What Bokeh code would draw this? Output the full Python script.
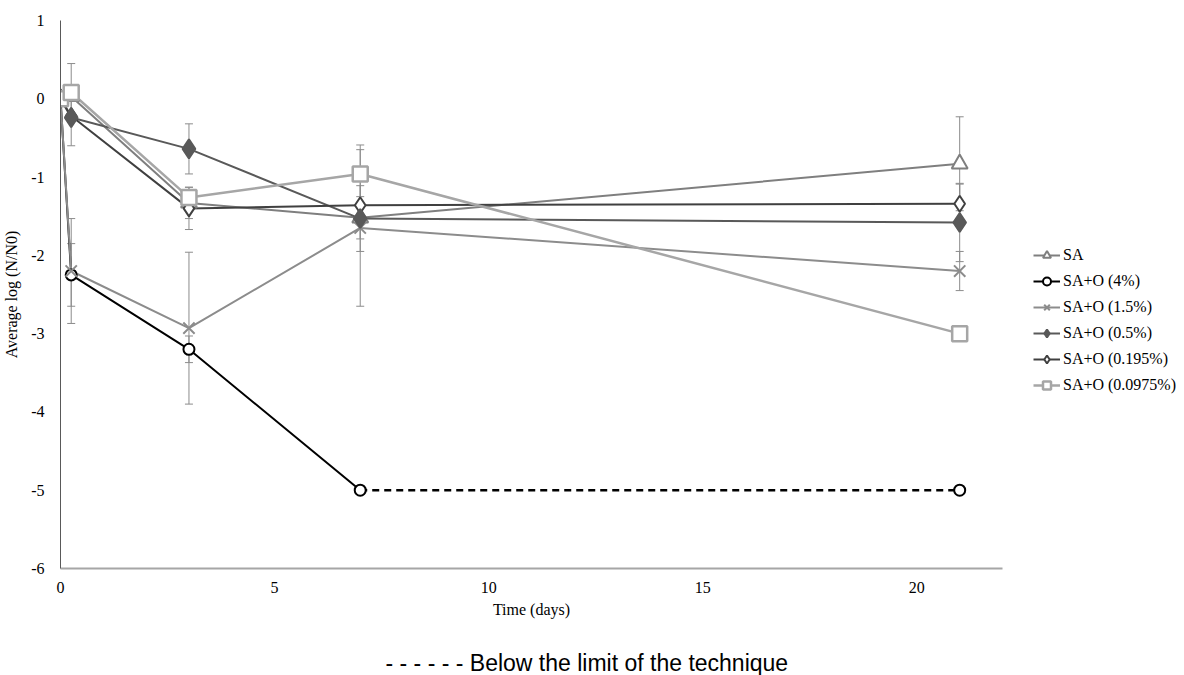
from bokeh.plotting import figure
from bokeh.layouts import column
from bokeh.models import (ColumnDataSource, Whisker, TeeHead, Legend, LegendItem, Label,
                          FixedTicker, Range1d, CustomJSTickFormatter)
from bokeh.embed import file_html
from bokeh.resources import INLINE

days = [0, 0.25, 3, 7, 21]
sa = [0, 0.03, -1.33, -1.52, -0.83]
sa_err = [0, 0, 0.2, 0.27, 0.6]
o4 = [0, -2.25, -3.2, -5, -5]
o4_err = [0, 0.4, 0.17, 0, 0]
o15 = [0, -2.2, -2.93, -1.65, -2.2]
o15_err = [0, 0.67, 0.97, 1.0, 0.25]
o05 = [0, -0.24, -0.64, -1.53, -1.58]
o05_err = [0, 0.36, 0.32, 0.42, 0.5]
o0195 = [0, -0.22, -1.4, -1.36, -1.34]
o0195_err = [0, 0, 0.27, 0, 0.25]
o00975 = [0, 0.08, -1.26, -0.96, -3.0]
o00975_err = [0, 0.37, 0.1, 0.37, 0]

x_ticks = [0, 5, 10, 15, 20]
y_ticks = [-6, -5, -4, -3, -2, -1, 0, 1]
x_axis_max = 22

SERIF = "Liberation Serif"
AXIS_PX = 942      # pixel length of the drawn x axis (0..22 days)
FRAME_PX = 1124    # frame extends to the right to hold the legend

p = figure(frame_width=FRAME_PX, frame_height=548, output_backend="svg", toolbar_location=None,
           x_range=Range1d(0, x_axis_max * FRAME_PX / AXIS_PX), y_range=Range1d(-6, 1),
           min_border_left=60, min_border_top=20, min_border_right=0, min_border_bottom=30)
p.outline_line_color = None
p.xgrid.grid_line_color = None
p.ygrid.grid_line_color = None
p.background_fill_color = "white"

fmt = CustomJSTickFormatter(code="return tick.toString();")
for ax in (p.xaxis[0], p.yaxis[0]):
    ax.major_tick_line_color = None
    ax.minor_tick_line_color = None
    ax.major_label_text_font = SERIF
    ax.major_label_text_font_size = "16px"
    ax.major_label_text_color = "black"
    ax.axis_label_text_font = SERIF
    ax.axis_label_text_font_size = "16px"
    ax.axis_label_text_font_style = "normal"
    ax.axis_label_text_color = "black"
    ax.formatter = fmt
p.xaxis.ticker = FixedTicker(ticks=x_ticks)
p.yaxis.ticker = FixedTicker(ticks=y_ticks)
p.xaxis.bounds = (0, x_axis_max)
p.xaxis.axis_line_color = "#a6a6a6"
p.xaxis.axis_line_width = 2
p.yaxis.axis_line_color = "#595959"
p.yaxis.axis_line_width = 1
p.xaxis.major_label_standoff = 7
p.yaxis.major_label_standoff = 10
p.xaxis.axis_label = None
p.yaxis.axis_label = "Average log (N/N0)"
p.yaxis.axis_label_standoff = 8

series = [
    ("SA", sa, sa_err, "#7f7f7f", "triangle", 16, "white", 2),
    ("SA+O (4%)", o4, o4_err, "#000000", "circle", 11, "white", 2),
    ("SA+O (1.5%)", o15, o15_err, "#8c8c8c", "x", 16, "#8c8c8c", 2),
    ("SA+O (0.5%)", o05, o05_err, "#595959", "diamond", 19, "#595959", 2),
    ("SA+O (0.195%)", o0195, o0195_err, "#404040", "diamond", 16, "white", 2),
    ("SA+O (0.0975%)", o00975, o00975_err, "#a6a6a6", "square", 15, "white", 2.5),
]

# error bars first
for name, ys, errs, col, mk, sz, fill, lw in series:
    xs = [d for d, e in zip(days, errs) if e > 0]
    up = [y + e for y, e in zip(ys, errs) if e > 0]
    lo = [y - e for y, e in zip(ys, errs) if e > 0]
    src = ColumnDataSource(dict(x=xs, upper=up, lower=lo))
    w = Whisker(source=src, base="x", upper="upper", lower="lower", dimension="height",
                line_color="#8c8c8c", line_width=1, level="underlay",
                upper_head=TeeHead(size=8, line_color="#8c8c8c", line_width=1),
                lower_head=TeeHead(size=8, line_color="#8c8c8c", line_width=1))
    p.add_layout(w)

lines = {}
for name, ys, errs, col, mk, sz, fill, lw in series:
    if name == "SA+O (4%)":
        ln = p.line(days[:4], ys[:4], line_color=col, line_width=lw)
        p.line(days[3:], ys[3:], line_color=col, line_width=2.5, line_dash="7 5")
    else:
        ln = p.line(days, ys, line_color=col, line_width=lw)
    lines[name] = ln

leg_items = {}
draw_order = ["SA", "SA+O (4%)", "SA+O (1.5%)", "SA+O (0.195%)", "SA+O (0.5%)", "SA+O (0.0975%)"]
lookup = {s[0]: s for s in series}
for name in draw_order:
    _, ys, errs, col, mk, sz, fill, lw = lookup[name]
    sc = p.scatter(days, ys, marker=mk, size=sz, line_color=col, fill_color=fill, line_width=lw)
    leg_items[name] = LegendItem(label=name, renderers=[lines[name], sc])

legend = Legend(items=[leg_items[s[0]] for s in series], location=(973, 173),
                label_text_font=SERIF, label_text_font_size="16px", label_text_color="black",
                glyph_width=27, glyph_height=20, label_height=20, spacing=6,
                padding=0, margin=0, border_line_color=None, background_fill_alpha=0,
                label_standoff=3)
p.add_layout(legend, "center")

# strip below the chart: x-axis title (centred under the drawn axis) and footnote
p2 = figure(frame_width=FRAME_PX, frame_height=77, output_backend="svg", toolbar_location=None,
            x_range=Range1d(0, 1), y_range=Range1d(0, 1),
            x_axis_location=None, y_axis_location=None,
            min_border_left=60, min_border_right=0, min_border_top=0, min_border_bottom=0)
p2.outline_line_color = None
p2.xgrid.grid_line_color = None
p2.ygrid.grid_line_color = None
p2.add_layout(Label(x=AXIS_PX / 2, y=66, x_units="screen", y_units="screen", text="Time (days)",
                    text_font=SERIF, text_font_size="16px", text_align="center",
                    text_baseline="middle", text_color="black"))
p2.add_layout(Label(x=325, y=13, x_units="screen", y_units="screen",
                    text="- - - - - - Below the limit of the technique",
                    text_font="Liberation Sans", text_font_size="23px", text_align="left",
                    text_baseline="middle", text_color="black"))

layout = column(p, p2, spacing=0)
open("out.html", "w").write(file_html(layout, INLINE))
